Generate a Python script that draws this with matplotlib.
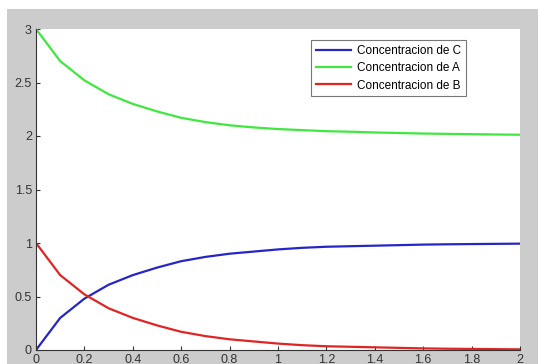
import numpy as np
import matplotlib.pyplot as plt
from matplotlib.patches import Rectangle

# tiempo y concentraciones
t = [0.0, 0.1, 0.2, 0.3, 0.4, 0.5, 0.6, 0.7, 0.8, 0.9, 1.0,
     1.1, 1.2, 1.3, 1.4, 1.5, 1.6, 1.7, 1.8, 1.9, 2.0]
conc_c = [0.0, 0.30, 0.48, 0.61, 0.70, 0.77, 0.83, 0.87, 0.90, 0.92, 0.94,
          0.955, 0.965, 0.97, 0.975, 0.98, 0.985, 0.988, 0.99, 0.992, 0.994]
conc_a = [3.0, 2.70, 2.52, 2.39, 2.30, 2.23, 2.17, 2.13, 2.10, 2.08, 2.065,
          2.055, 2.045, 2.04, 2.033, 2.028, 2.023, 2.02, 2.017, 2.014, 2.012]
conc_b = [1.0, 0.70, 0.52, 0.39, 0.30, 0.23, 0.17, 0.13, 0.10, 0.08, 0.06,
          0.045, 0.035, 0.03, 0.025, 0.02, 0.015, 0.012, 0.01, 0.008, 0.006]

plt.rcParams['font.family'] = ['Liberation Sans', 'DejaVu Sans']

fig = plt.figure(figsize=(5.38, 3.64), dpi=100, facecolor='white')
# fondo gris estilo matlab
fig.patches.append(Rectangle((7 / 538, 0), 1, 1 - 9 / 364, transform=fig.transFigure,
                             facecolor='#cccccc', edgecolor='none', zorder=-10))

ax = fig.add_axes([36 / 538, 14 / 364, 484 / 538, 321 / 364])
ax.plot(t, conc_c, color='#2626c8', lw=1.6, label='Concentracion de C')
ax.plot(t, conc_a, color='#3ee83e', lw=1.6, label='Concentracion de A')
ax.plot(t, conc_b, color='#e02424', lw=1.6, label='Concentracion de B')

ax.set_xlim(0, 2)
ax.set_ylim(0, 3)
ax.set_xticks(np.arange(0, 2.01, 0.2))
ax.set_xticklabels(['0', '0.2', '0.4', '0.6', '0.8', '1', '1.2', '1.4', '1.6', '1.8', '2'])
ax.set_yticks([0, 0.5, 1, 1.5, 2, 2.5, 3])
ax.set_yticklabels(['0', '0.5', '1', '1.5', '2', '2.5', '3'])
ax.tick_params(direction='in', length=3, labelsize=9, colors='#333333', pad=3)
for s in ['top', 'right']:
    ax.spines[s].set_visible(False)
for s in ['left', 'bottom']:
    ax.spines[s].set_color('#333333')

leg = ax.legend(loc='upper right', bbox_to_anchor=(0.888, 0.965), fontsize=8.5,
                frameon=True, fancybox=False, handlelength=3.0, handletextpad=0.5,
                borderpad=0.4, labelspacing=0.45, borderaxespad=0)
leg.get_frame().set_edgecolor('#555555')
leg.get_frame().set_linewidth(0.8)

plt.savefig('out.png', dpi=100, facecolor=fig.get_facecolor())
